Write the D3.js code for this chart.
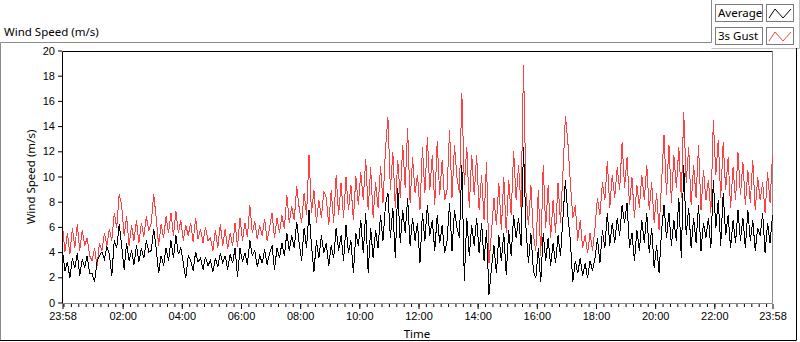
<!DOCTYPE html>
<html>
<head>
<meta charset="utf-8">
<script src="https://cdn.jsdelivr.net/npm/d3@7"></script>
<style>
  body { margin: 0; background: #fff; }
  svg { display: block; font-family: "Noto Sans", "Open Sans", sans-serif; }
  .tick text { font-size: 11px; fill: #000; }
</style>
</head>
<body>
<script>
const width = 800;
const height = 342;

// 5 minute samples, 23:58 -> 23:58 next day, one row per hour
const gust = [
  6.2, 4.1, 5.6, 3.9, 6.0, 4.4, 6.3, 4.2, 5.8, 4.6, 5.2, 3.8,
  3.4, 4.4, 3.0, 4.8, 4.2, 5.6, 4.6, 5.9, 5.0, 7.2, 6.0, 8.7,
  7.8, 5.4, 6.9, 4.6, 6.2, 5.0, 6.6, 4.8, 6.4, 5.3, 6.9, 5.8,
  6.4, 8.7, 6.8, 4.6, 6.3, 5.2, 6.9, 5.6, 7.2, 5.4, 7.3, 5.6,
  6.6, 5.0, 6.2, 5.4, 6.4, 4.9, 6.8, 5.1, 5.9, 4.8, 6.1, 5.0,
  5.2, 4.2, 5.8, 4.4, 6.3, 4.6, 5.9, 4.3, 5.6, 4.6, 6.4, 4.5,
  6.8, 5.0, 6.4, 5.3, 7.8, 5.6, 6.5, 5.1, 6.2, 5.4, 6.7, 5.0,
  6.0, 7.2, 5.2, 6.8, 5.6, 7.0, 5.9, 8.6, 6.4, 7.7, 6.6, 9.3,
  7.6, 6.4, 8.8, 7.0, 11.8, 7.2, 9.0, 6.4, 8.2, 6.8, 8.9, 8.4,
  6.2, 9.0, 6.4, 10.2, 7.0, 9.6, 6.8, 10.0, 7.4, 9.4, 6.6, 10.1,
  7.8, 10.4, 8.2, 11.5, 7.4, 10.8, 6.8, 9.6, 7.6, 10.9, 8.0, 12.2,
  14.8, 9.0, 12.0, 7.6, 11.4, 8.4, 12.6, 9.2, 13.9, 8.0, 11.6, 8.8,
  10.2, 7.4, 12.4, 8.8, 13.2, 9.0, 11.8, 7.8, 12.9, 8.6, 11.4, 8.2,
  9.0, 13.8, 8.4, 12.6, 10.0, 8.8, 16.7, 9.4, 12.4, 7.6, 11.8, 8.6,
  11.8, 7.4, 10.2, 6.6, 11.2, 3.2, 5.6, 8.4, 6.2, 9.6, 5.8, 10.0,
  5.6, 9.8, 7.0, 12.1, 8.2, 11.0, 7.6, 18.9, 8.8, 6.2, 9.4, 5.4,
  4.2, 9.0, 3.8, 11.0, 6.0, 9.4, 5.2, 8.2, 5.6, 9.6, 6.4, 10.4,
  14.9, 12.8, 9.6, 6.8, 7.8, 5.0, 6.6, 4.4, 5.4, 4.0, 5.6, 4.2,
  6.0, 8.4, 7.0, 9.6, 8.2, 11.3, 7.6, 10.2, 8.4, 10.8, 9.0, 12.8,
  9.2, 11.6, 7.8, 10.0, 6.8, 9.4, 7.6, 10.2, 8.2, 11.0, 7.4, 9.6,
  6.4, 8.8, 5.8, 9.6, 13.4, 8.6, 12.6, 8.0, 11.8, 9.2, 12.4, 8.4,
  15.2, 9.6, 12.4, 7.8, 11.0, 8.4, 12.6, 7.4, 10.6, 8.2, 9.8, 7.2,
  14.6, 10.2, 13.0, 8.4, 12.8, 9.0, 11.6, 7.6, 10.8, 8.2, 12.0, 8.6,
  11.2, 7.8, 10.6, 8.0, 11.4, 7.4, 10.0, 8.2, 9.6, 7.2, 10.4, 8.0,
  11.8
];

const average = [
  4.2, 2.6, 3.3, 2.0, 3.6, 2.8, 4.0, 2.2, 3.5, 2.9, 3.8, 2.4,
  2.4, 1.7, 3.3, 3.8, 4.1, 3.5, 4.5, 3.9, 2.2, 5.0, 4.4, 6.3,
  4.6, 2.7, 4.8, 3.4, 4.2, 3.1, 4.6, 3.3, 4.4, 3.6, 5.0, 4.1,
  4.2, 5.9, 4.4, 2.4, 3.8, 3.0, 4.4, 3.4, 5.0, 3.6, 5.4, 3.9,
  4.4, 3.2, 2.0, 3.8, 3.4, 2.6, 4.1, 3.3, 3.6, 2.7, 3.7, 3.0,
  3.4, 2.5, 3.6, 2.9, 4.0, 3.2, 3.8, 2.7, 3.9, 3.2, 4.4, 2.1,
  4.4, 3.3, 4.0, 3.1, 5.0, 3.8, 4.2, 2.9, 3.8, 3.2, 4.3, 3.1,
  4.0, 4.6, 2.7, 4.4, 3.6, 4.8, 3.8, 5.6, 4.2, 5.4, 4.4, 6.5,
  4.8, 3.4, 6.0, 4.4, 7.4, 4.6, 2.5, 5.0, 3.6, 5.4, 4.0, 4.8,
  3.0, 4.6, 3.6, 6.0, 4.2, 5.4, 3.4, 6.2, 4.0, 5.0, 2.4, 5.6,
  4.6, 6.6, 4.0, 7.2, 2.4, 6.0, 3.6, 5.8, 4.4, 7.0, 5.0, 7.8,
  8.8, 5.2, 7.6, 3.6, 9.2, 4.8, 7.4, 5.6, 8.4, 4.6, 6.8, 5.0,
  6.4, 3.2, 7.2, 5.0, 7.8, 5.4, 6.6, 4.2, 7.0, 4.8, 6.2, 4.0,
  5.0, 8.0, 4.2, 7.4, 6.0, 5.2, 11.0, 1.8, 6.8, 3.8, 6.2, 4.6,
  6.8, 4.0, 6.4, 3.4, 5.8, 0.7, 2.8, 4.6, 2.4, 5.4, 3.4, 5.6,
  2.3, 5.8, 3.8, 7.0, 5.2, 6.8, 4.6, 12.4, 6.0, 3.2, 5.6, 2.6,
  2.0, 4.4, 1.7, 5.6, 3.4, 5.2, 3.0, 4.8, 3.2, 5.4, 3.8, 6.8,
  9.8, 7.0, 5.0, 1.7, 3.4, 2.4, 3.6, 2.2, 3.2, 2.0, 3.4, 2.6,
  3.6, 5.2, 3.2, 5.8, 4.4, 7.2, 4.6, 6.4, 4.8, 6.8, 5.4, 7.8,
  6.4, 8.0, 4.4, 5.6, 3.4, 5.8, 4.2, 6.6, 4.8, 7.2, 4.0, 6.0,
  2.8, 4.6, 2.4, 5.8, 7.8, 5.2, 7.2, 4.6, 6.6, 5.0, 8.4, 3.6,
  11.0, 5.4, 7.6, 4.4, 6.8, 4.8, 7.8, 4.2, 6.4, 5.2, 6.8, 4.4,
  9.8, 6.0, 8.2, 4.6, 8.8, 5.4, 7.0, 4.4, 6.6, 4.8, 7.4, 5.0,
  6.8, 4.4, 7.4, 5.0, 6.6, 4.2, 6.0, 5.4, 7.2, 4.0, 6.4, 4.8,
  7.0
];

const yTicks = [0, 2, 4, 6, 8, 10, 12, 14, 16, 18, 20];
const legendNames = ['Average', '3s Gust'];
const legendColors = ['#000000', '#ff4040'];

const start = new Date(2020, 0, 1, 23, 58);
const end = new Date(2020, 0, 2, 23, 58);
const times = gust.map((d, i) => d3.timeMinute.offset(start, i * 5));

const svg = d3.select('body')
    .append('svg')
    .attr('width', width)
    .attr('height', height);

const x = d3.scaleTime().domain([start, end]).range([62.5, 772.5]);
const y = d3.scaleLinear().domain([0, 20]).range([303.5, 51.5]);

// widget frame
svg.append('text')
    .attr('x', 4)
    .attr('y', 36)
    .attr('font-size', 11.5)
    .text('Wind Speed (m/s)');

const frame = svg.append('g').attr('fill', 'none');
frame.append('path').attr('d', 'M0.5,341 V42.5 H711.5 V0').attr('stroke', '#8a8a8a');
frame.append('path').attr('d', 'M711.5,48.5 H799.5 V0').attr('stroke', '#c0c0c0');
frame.append('path').attr('d', 'M0,340.5 H796.5 V48').attr('stroke', '#000');

// legend
legendNames.forEach((name, i) => {
    const top = 4 + i * 23;
    svg.append('rect')
        .attr('x', 715.5).attr('y', top + 0.5)
        .attr('width', 47).attr('height', 17)
        .attr('fill', '#fff').attr('stroke', '#7a7a7a');
    svg.append('text')
        .attr('x', 718).attr('y', top + 13)
        .attr('font-size', 11.5)
        .text(name);
    svg.append('rect')
        .attr('x', 766.5).attr('y', top + 0.5)
        .attr('width', 27).attr('height', 17)
        .attr('fill', '#fff').attr('stroke', '#7a7a7a');
    svg.append('path')
        .attr('d', `M769,${top + 14} L775,${top + 5} L783,${top + 14} L791,${top + 5}`)
        .attr('fill', 'none')
        .attr('stroke', legendColors[i]);
});

// plot area border
svg.append('path')
    .attr('d', 'M772.5,51.5 V303.5 H62.5')
    .attr('fill', 'none')
    .attr('stroke', '#8a8a8a');

// series, gust under average
const line = values => d3.line()
    .x((d, i) => x(times[i]))
    .y(d => y(d))(values);

svg.append('path')
    .attr('d', line(gust))
    .attr('fill', 'none')
    .attr('stroke', '#ff4040')
    .attr('stroke-width', 1)
    .attr('shape-rendering', 'crispEdges');

svg.append('path')
    .attr('d', line(average))
    .attr('fill', 'none')
    .attr('stroke', '#000')
    .attr('stroke-width', 1)
    .attr('shape-rendering', 'crispEdges');

svg.append('path')
    .attr('d', 'M62.5,303.5 V51.5 H772.5')
    .attr('fill', 'none')
    .attr('stroke', '#000');

// axes
const yAxis = svg.append('g')
    .call(d3.axisLeft(y).tickValues(yTicks).tickSize(4).tickPadding(3).tickSizeOuter(0));
yAxis.select('.domain').remove();
yAxis.selectAll('.tick line').attr('transform', 'translate(62,0)');
yAxis.selectAll('.tick text').attr('x', 55);
yAxis.selectAll('.tick').attr('transform', d => `translate(0,${y(d) - 0.5})`);

const majors = [start].concat(d3.range(2, 24, 2).map(h => new Date(2020, 0, 2, h, 0)), [end]);
const minors = d3.timeMinute.every(15).range(new Date(2020, 0, 2, 0, 0), end);

const xMinor = svg.append('g')
    .attr('transform', 'translate(0,304)')
    .call(d3.axisBottom(x).tickValues(minors).tickSize(3).tickFormat(''));
xMinor.select('.domain').remove();

const xAxis = svg.append('g')
    .attr('transform', 'translate(0,304)')
    .call(d3.axisBottom(x).tickValues(majors).tickSize(5).tickPadding(3)
        .tickFormat(d3.timeFormat('%H:%M')));
xAxis.select('.domain').remove();
svg.selectAll('.tick line').attr('stroke', '#000');

// axis titles
svg.append('text')
    .attr('x', 417)
    .attr('y', 338)
    .attr('text-anchor', 'middle')
    .attr('font-size', 11.5)
    .text('Time');

svg.append('text')
    .attr('transform', 'translate(35,177) rotate(-90)')
    .attr('text-anchor', 'middle')
    .attr('font-size', 11.5)
    .text('Wind Speed (m/s)');
</script>
</body>
</html>
